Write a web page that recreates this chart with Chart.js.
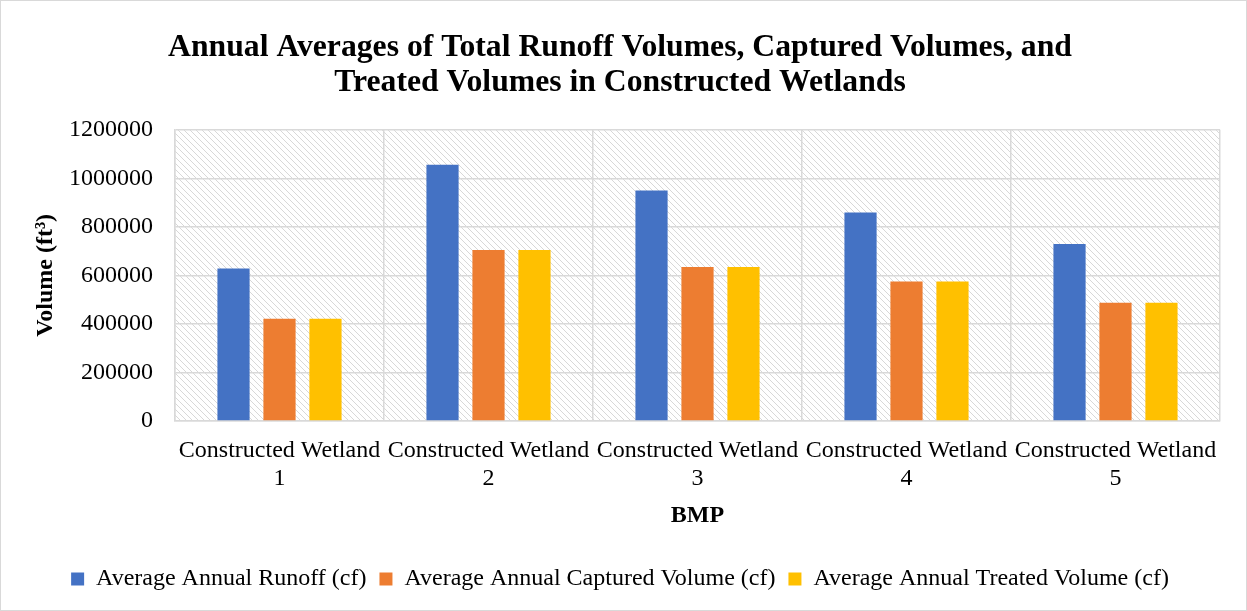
<!DOCTYPE html>
<html>
<head>
<meta charset="utf-8">
<script src="https://cdn.jsdelivr.net/npm/chart.js@4"></script>
<style>
  body { margin: 0; background: #fff; }
  #wrap { width: 1247px; height: 611px; }
</style>
</head>
<body>
<div id="wrap"><canvas id="chart" width="1247" height="611"></canvas></div>
<script>
// data
const categories = [
  ['Constructed Wetland', '1'],
  ['Constructed Wetland', '2'],
  ['Constructed Wetland', '3'],
  ['Constructed Wetland', '4'],
  ['Constructed Wetland', '5']
];
const runoff = [628000, 1056000, 950000, 859000, 729000];
const captured = [421000, 705000, 635000, 575000, 487000];
const treated = [421000, 705000, 635000, 575000, 487000];
const yTicks = [0, 200000, 400000, 600000, 800000, 1000000, 1200000];

const serif = "'Liberation Serif', 'Times New Roman', serif";

// hatched fill for plot area
function makeHatch() {
  const c = document.createElement('canvas');
  c.width = 6; c.height = 6;
  const g = c.getContext('2d');
  g.fillStyle = '#ffffff';
  g.fillRect(0, 0, 6, 6);
  g.strokeStyle = '#d8d8d8';
  g.lineWidth = 1;
  g.beginPath();
  g.moveTo(0, 0); g.lineTo(6, 6);
  g.moveTo(-3, 3); g.lineTo(3, 9);
  g.moveTo(3, -3); g.lineTo(9, 3);
  g.stroke();
  return g.createPattern(c, 'repeat');
}

const backdrop = {
  id: 'backdrop',
  beforeDraw(chart) {
    const { ctx, chartArea: a, width, height } = chart;
    ctx.save();
    ctx.fillStyle = '#fff';
    ctx.fillRect(0, 0, width, height);
    ctx.strokeStyle = '#d9d9d9';
    ctx.lineWidth = 1;
    ctx.strokeRect(0.5, 0.5, width - 1, height - 1);
    ctx.fillStyle = makeHatch();
    ctx.fillRect(a.left, a.top, a.right - a.left, a.bottom - a.top);
    ctx.restore();
  }
};

const ds = (label, data, color) => ({
  label, data, backgroundColor: color,
  categoryPercentage: 0.66, barPercentage: 0.70
});

new Chart(document.getElementById('chart'), {
  type: 'bar',
  data: {
    labels: categories,
    datasets: [
      ds('Average Annual Runoff (cf)', runoff, '#4472c4'),
      ds('Average Annual Captured Volume (cf)', captured, '#ed7d31'),
      ds('Average Annual Treated Volume (cf)', treated, '#ffc000')
    ]
  },
  options: {
    responsive: false,
    animation: false,
    layout: { padding: { left: 20, right: 27, top: 17, bottom: 10 } },
    plugins: {
      title: {
        display: true,
        text: ['Annual Averages of Total Runoff Volumes, Captured Volumes, and',
               'Treated Volumes in Constructed Wetlands'],
        color: '#000',
        font: { family: serif, size: 31.7, weight: 'bold', lineHeight: 1.1 },
        padding: { top: 13, bottom: 30 }
      },
      legend: {
        position: 'bottom',
        labels: {
          color: '#000',
          font: { family: serif, size: 24 },
          boxWidth: 13, boxHeight: 13,
          padding: 13
        }
      },
      tooltip: { enabled: false }
    },
    scales: {
      x: {
        grid: { color: '#d9d9d9', lineWidth: 1.5, drawTicks: false, offset: true },
        border: { color: '#d9d9d9', width: 1.5 },
        ticks: {
          color: '#000', font: { family: serif, size: 24, lineHeight: 1.17 },
          maxRotation: 0, autoSkip: false, padding: 16
        },
        title: {
          display: true, text: 'BMP', color: '#000',
          font: { family: serif, size: 24, weight: 'bold', lineHeight: 1.2 },
          padding: { top: -8, bottom: 24 }
        }
      },
      y: {
        min: 0, max: 1200000,
        afterBuildTicks(axis) { axis.ticks = yTicks.map(v => ({ value: v })); },
        afterFit(axis) { axis.width = 155; },
        grid: { color: '#d9d9d9', lineWidth: 1.5, drawTicks: false },
        border: { color: '#d9d9d9', width: 1.5 },
        ticks: {
          color: '#000', font: { family: serif, size: 24 },
          padding: 22,
          callback: v => String(v)
        },
        title: {
          display: true, text: 'Volume (ft³)', color: '#000',
          font: { family: serif, size: 24, weight: 'bold', lineHeight: 1.2 },
          padding: { top: 11, bottom: 0 }
        }
      }
    }
  },
  plugins: [backdrop]
});
</script>
</body>
</html>
